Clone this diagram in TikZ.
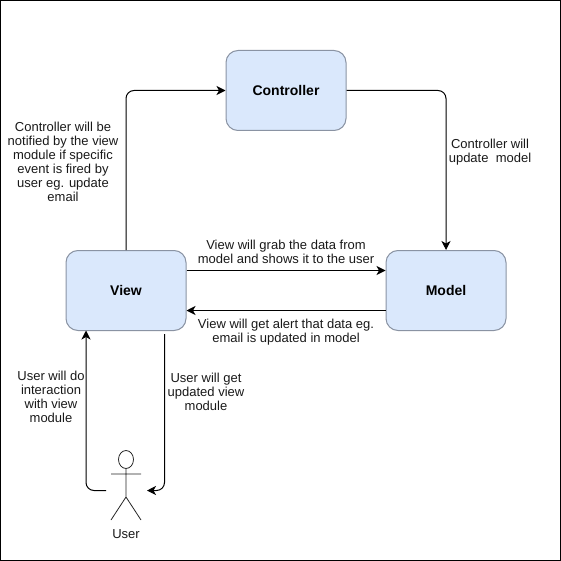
\documentclass[tikz,border=0pt]{standalone}
\usepackage{fontspec}
\setmainfont{Liberation Sans}
\usetikzlibrary{arrows.meta}
\tikzset{
  boxnode/.style={draw=boxline,fill=boxfill,line width=1pt,rounded corners=12pt,minimum width=120pt,minimum height=80pt,inner sep=0pt,font=\fontsize{14}{16}\selectfont\bfseries},
  lbl/.style={align=center,inner sep=0pt,text=black!90,font=\fontsize{13}{14}\selectfont},
  conn/.style={draw=black,line width=1pt,rounded corners=8pt,-{Stealth[length=9pt,width=9pt,inset=2.5pt]}},
  actorline/.style={draw=black!85,line width=0.8pt},
}
\definecolor{boxfill}{HTML}{DAE8FC}
\definecolor{boxline}{HTML}{8A93A3}
\begin{document}
\begin{tikzpicture}[x=1pt,y=-1pt]
\useasboundingbox (0,0) rectangle (561,561);
\draw[black,line width=1pt] (0.5,0.5) rectangle (560.5,560.5);
\node[boxnode] (controller) at (286,90.5) {Controller};
\node[boxnode] (view) at (126,290.5) {View};
\node[boxnode] (model) at (446,290.5) {Model};
% actor
\coordinate (head) at (126,459.5);
\coordinate (armL) at (111,474);
\coordinate (armR) at (141,474);
\coordinate (neck) at (126,468.5);
\coordinate (hip) at (126,497);
\coordinate (legL) at (111,520);
\coordinate (legR) at (141,520);
\draw[actorline] (head) ellipse [x radius=7.5,y radius=9];
\draw[actorline] (neck) -- (hip) (armL) -- (armR) (hip) -- (legL) (hip) -- (legR);
\node[lbl] (user) at (126,534) {User};
% connectors
\path[conn] (view.north) |- (controller.west);
\path[conn] (controller.east) -| (model.north);
\path[conn] (view.east |- 0,270.5) coordinate (v1) -- (model.west |- v1);
\path[conn] (model.west |- 0,310.5) coordinate (m1) -- (view.east |- m1);
\coordinate (uL) at (106,490.5);
\coordinate (uV) at (86,330.5);
\path[conn] (uL) -| (uV);
\coordinate (vS) at (164.5,334);
\coordinate (uR) at (147,490.5);
\path[conn] (vS) |- (uR);
% labels
\node[lbl] (l1) at (63,162) {Controller will be\\notified by the view\\module if specific\\event is fired by\\user eg. update\\email};
\node[lbl] (l2) at (490,152) {Controller will\\update~ model};
\node[lbl] (l3) at (286,252) {View will grab the data from\\model and shows it to the user};
\node[lbl] (l4) at (286,332) {View will get alert that data eg.\\email is updated in model};
\node[lbl] (l5) at (51,397) {User will do\\interaction\\with view\\module};
\node[lbl] (l6) at (206,392) {User will get\\updated view\\module};
\end{tikzpicture}
\end{document}
